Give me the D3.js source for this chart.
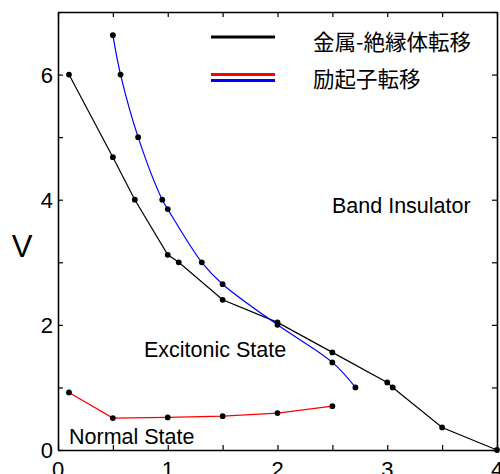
<!DOCTYPE html>
<html>
<head>
<meta charset="utf-8">
<script src="https://cdn.jsdelivr.net/npm/d3@7"></script>
<style>
  body { margin: 0; background: #fff; }
  text { font-family: "Liberation Sans", Arial, sans-serif; fill: #000; }
  .cjk { font-family: "Noto Sans CJK JP", sans-serif; }
</style>
</head>
<body>
<svg></svg>
<script>
// metal-insulator transition (black)
var miX = [0.1, 0.5, 0.7, 1.0, 1.1, 1.5, 2.0, 2.5, 3.0, 3.05, 3.5, 4.0];
var miY = [6.0, 4.68, 4.0, 3.12, 3.0, 2.4, 2.04, 1.56, 1.08, 1.0, 0.36, 0.0];
// excitonic transition, upper branch (blue)
var exUpX = [0.5, 0.57, 0.73, 0.95, 1.0, 1.31, 1.5, 2.0, 2.5, 2.71];
var exUpY = [6.63, 6.0, 5.0, 4.0, 3.85, 3.0, 2.65, 2.0, 1.4, 1.0];
// excitonic transition, lower branch (red)
var exLoX = [0.1, 0.5, 1.0, 1.5, 2.0, 2.5];
var exLoY = [0.92, 0.51, 0.52, 0.54, 0.59, 0.70];

var xTicks = [0, 0.5, 1, 1.5, 2, 2.5, 3, 3.5, 4];
var xLabels = [0, 1, 2, 3, 4];
var yTicks = [0, 1, 2, 3, 4, 5, 6, 7];
var yLabels = [0, 2, 4, 6];

var legendMI = "金属-絶縁体転移";
var legendEX = "励起子転移";
var regionNames = ["Band Insulator", "Excitonic State", "Normal State"];

function chart() {
    var svgWidth = 500, svgHeight = 474;
    var margin = {top: 12, right: 3, bottom: 24, left: 58};
    var w = svgWidth - margin.left - margin.right;
    var h = svgHeight - margin.top - margin.bottom;

    var svg = d3.select("svg")
            .attr("width", svgWidth)
            .attr("height", svgHeight);
    var g = svg.append("g")
            .attr("transform", "translate(" + margin.left + "," + margin.top + ")");

    var x = d3.scaleLinear().domain([0, 4]).range([0, w]);
    var y = d3.scaleLinear().domain([0, 7]).range([h, 0]);

    // ticks point inward on all four sides
    var tickLen = 5;
    g.append("g").attr("transform", "translate(0," + h + ")")
            .call(d3.axisBottom(x).tickValues(xTicks).tickSizeInner(-tickLen).tickSizeOuter(0).tickFormat(""));
    g.append("g")
            .call(d3.axisTop(x).tickValues(xTicks).tickSizeInner(-tickLen).tickSizeOuter(0).tickFormat(""));
    g.append("g")
            .call(d3.axisLeft(y).tickValues(yTicks).tickSizeInner(-tickLen).tickSizeOuter(0).tickFormat(""));
    g.append("g").attr("transform", "translate(" + w + ",0)")
            .call(d3.axisRight(y).tickValues(yTicks).tickSizeInner(-tickLen).tickSizeOuter(0).tickFormat(""));
    g.selectAll(".domain").attr("stroke-width", 1.6);
    g.selectAll(".tick line").attr("stroke-width", 1.2);

    g.selectAll(".xlab").data(xLabels).enter().append("text")
            .attr("x", function(d) {return x(d);})
            .attr("y", h + 27)
            .attr("text-anchor", "middle")
            .attr("font-size", 22)
            .text(function(d) {return d;});
    g.selectAll(".ylab").data(yLabels).enter().append("text")
            .attr("x", -5)
            .attr("y", function(d) {return y(d) + 8;})
            .attr("text-anchor", "end")
            .attr("font-size", 22)
            .text(function(d) {return d;});
    svg.append("text").attr("x", 22).attr("y", 257)
            .attr("text-anchor", "middle").attr("font-size", 31).text("V");

    var series = [
        {xs: miX, ys: miY, color: "#000", curve: d3.curveLinear},
        {xs: exLoX, ys: exLoY, color: "#ff0000", curve: d3.curveLinear},
        {xs: exUpX, ys: exUpY, color: "#0000ff", curve: d3.curveCatmullRom}
    ];

    series.forEach(function(s) {
        var pts = s.xs.map(function(v, i) {return [v, s.ys[i]];});
        var line = d3.line()
                .x(function(d) {return x(d[0]);})
                .y(function(d) {return y(d[1]);})
                .curve(s.curve);
        g.append("path").datum(pts)
                .attr("d", line)
                .attr("fill", "none")
                .attr("stroke", s.color)
                .attr("stroke-width", 1.2);
        g.selectAll(null).data(pts).enter().append("circle")
                .attr("cx", function(d) {return x(d[0]);})
                .attr("cy", function(d) {return y(d[1]);})
                .attr("r", 2.9)
                .attr("fill", "#000");
    });

    // legend
    var leg = svg.append("g");
    leg.append("line").attr("x1", 211).attr("x2", 275).attr("y1", 37).attr("y2", 37)
            .attr("stroke", "#000").attr("stroke-width", 3.2);
    leg.append("line").attr("x1", 211).attr("x2", 275).attr("y1", 74.5).attr("y2", 74.5)
            .attr("stroke", "#ff0000").attr("stroke-width", 3.2);
    leg.append("line").attr("x1", 211).attr("x2", 275).attr("y1", 80.5).attr("y2", 80.5)
            .attr("stroke", "#0000ff").attr("stroke-width", 3.2);
    leg.append("text").attr("class", "cjk").attr("x", 313).attr("y", 50)
            .attr("font-size", 21.5).text(legendMI);
    leg.append("text").attr("class", "cjk").attr("x", 313).attr("y", 87)
            .attr("font-size", 21.5).text(legendEX);

    // region labels
    var regionPos = [[332, 213], [144, 357], [69, 444]];
    svg.selectAll(".region").data(regionNames).enter().append("text")
            .attr("x", function(d, i) {return regionPos[i][0];})
            .attr("y", function(d, i) {return regionPos[i][1];})
            .attr("font-size", 21.5)
            .text(function(d) {return d;});
}
chart();
</script>
</body>
</html>
